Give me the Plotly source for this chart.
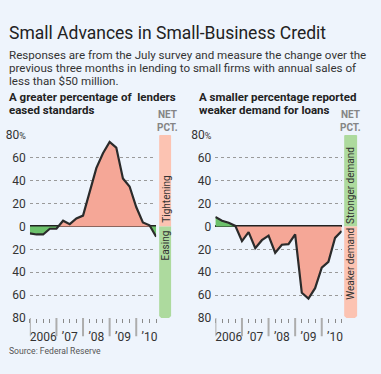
import plotly.graph_objects as go

# ---------------- data ----------------
quarters = [2006 + i * 0.25 for i in range(20)]
standards = [-6, -7, -7, -2, -2, 5, 2, 7, 9.5, 31, 51, 64, 74, 69, 42, 35, 17, 3.5, 1, -9]
demand = [8.3, 5, 3.3, 0.5, -12.8, -5, -19, -12, -8, -23, -16, -15.5, -7, -58, -63, -54, -36, -31, -10, -4]
year_ticks = [2006, 2007, 2008, 2009, 2010]
year_labels = ["2006", "\u201907", "\u201908", "\u201909", "\u201910"]
y_ticks = [80, 60, 40, 20, 0, -20, -40, -60, -80]
y_labels = ["80<span style='font-size:9px'>%</span>", "60", "40", "20", "0", "20", "40", "60", "80"]

W, H = 381, 374
BG = "#EEF4FC"
SALMON = "#F5A797"
GREEN = "#6CC16B"
BAND_SALMON = "#FCC3B2"
BAND_GREEN = "#ADDA9E"
FONT = "Roboto"


def split_sign(xs, ys):
    """Return (pos_x, pos_y, neg_x, neg_y) with zero crossings inserted."""
    px, py, nx, ny = [], [], [], []
    for i in range(len(xs)):
        if i > 0:
            y0, y1 = ys[i - 1], ys[i]
            if (y0 > 0 and y1 < 0) or (y0 < 0 and y1 > 0):
                xc = xs[i - 1] + (xs[i] - xs[i - 1]) * (y0 / (y0 - y1))
                px.append(xc); py.append(0)
                nx.append(xc); ny.append(0)
        px.append(xs[i]); py.append(max(ys[i], 0))
        nx.append(xs[i]); ny.append(min(ys[i], 0))
    return px, py, nx, ny


fig = go.Figure()

def add_panel(ys, xa, ya, pos_color, neg_color):
    px_, py_, nx_, ny_ = split_sign(quarters, ys)
    fig.add_trace(go.Scatter(x=px_, y=py_, mode="lines", line=dict(width=0), fill="tozeroy",
                             fillcolor=pos_color, xaxis=xa, yaxis=ya, hoverinfo="skip", showlegend=False))
    fig.add_trace(go.Scatter(x=nx_, y=ny_, mode="lines", line=dict(width=0), fill="tozeroy",
                             fillcolor=neg_color, xaxis=xa, yaxis=ya, hoverinfo="skip", showlegend=False))
    fig.add_trace(go.Scatter(x=quarters, y=ys, mode="lines", line=dict(color="#2b2b2b", width=2.2),
                             xaxis=xa, yaxis=ya, showlegend=False))

add_panel(standards, "x", "y", SALMON, GREEN)
add_panel(demand, "x2", "y2", GREEN, SALMON)

ybot = 1 - 323 / H
ydom = [ybot, 1 - 133 / H]
xdom1 = [30 / W, 157 / W]
xdom2 = [216.5 / W, 343.5 / W]
xrange_ = [2006, 2010.75]

def xaxis_cfg(dom, anchor):
    return dict(domain=dom, range=xrange_, anchor=anchor, showgrid=False, zeroline=False,
                tickvals=[y + 0.5 for y in year_ticks], ticktext=year_labels, ticks="",
                ticklabelstandoff=10, tickfont=dict(family=FONT, size=12, color="#333"),
                showline=False,
                minor=dict(ticks="outside", ticklen=4, tickwidth=1, tickcolor="#8A8A8A",
                           tickvals=quarters + [2010.75], showgrid=False),
                fixedrange=True)

def yaxis_cfg(dom, anchor):
    return dict(domain=dom, range=[-80, 80], anchor=anchor, tickvals=y_ticks, ticktext=y_labels,
                showgrid=True, gridcolor="#9A9A9A", griddash="dot", gridwidth=1,
                zeroline=True, zerolinecolor="#222", zerolinewidth=1.6, ticks="",
                ticklabelstandoff=3, tickfont=dict(family=FONT, size=12, color="#333"),
                showline=False, fixedrange=True)

fig.update_layout(
    width=W, height=H, margin=dict(l=0, r=0, t=0, b=0),
    paper_bgcolor=BG, plot_bgcolor=BG, showlegend=False,
    xaxis=xaxis_cfg(xdom1, "y"),
    xaxis2=xaxis_cfg(xdom2, "y2"),
    yaxis=yaxis_cfg(ydom, "x"),
    yaxis2=yaxis_cfg(ydom, "x2"),
)

# long year ticks below each panel
for xr in ("x", "x2"):
    for yv in year_ticks:
        fig.add_shape(type="line", xref=xr, yref="paper", x0=yv, x1=yv,
                      y0=ybot, y1=ybot - 19 / H, line=dict(color="#ADADAD", width=2))

# -------- side bands with arrow tips --------
def band(x0px, x1px, yref, top_color, bot_color):
    x0, x1 = x0px / W, x1px / W
    xm = (x0 + x1) / 2
    fig.add_shape(type="path", xref="paper", yref=yref, line=dict(width=0), fillcolor=top_color,
                  path=f"M {x0},0 L {x0},79.5 L {xm},83.2 L {x1},79.5 L {x1},0 Z", layer="below")
    fig.add_shape(type="path", xref="paper", yref=yref, line=dict(width=0), fillcolor=bot_color,
                  path=f"M {x0},0 L {x0},-78.3 L {xm},-83.4 L {x1},-78.3 L {x1},0 Z", layer="below")

band(160, 172, "y", BAND_SALMON, BAND_GREEN)
band(346, 359, "y2", BAND_GREEN, BAND_SALMON)

def vtext(text, xpx, yval, yref):
    fig.add_annotation(text=text, x=xpx / W, xref="paper", y=yval, yref=yref, showarrow=False,
                       textangle=-90, font=dict(family=FONT, size=10, color="#333"),
                       xanchor="center", yanchor="middle")

vtext("Tightening", 166.5, 24, "y")
vtext("Easing", 166.5, -17, "y")
vtext("Stronger demand", 352.5, 36, "y2")
vtext("Weaker demand", 352.5, -33, "y2")

def text(t, xpx, ypx, size, color, bold=False, xanchor="left"):
    fig.add_annotation(text=f"<b>{t}</b>" if bold else t, x=xpx / W, y=1 - ypx / H, xref="paper",
                       yref="paper", showarrow=False, xanchor=xanchor, yanchor="middle",
                       font=dict(family=FONT, size=size, color=color))

text("Small Advances in Small-Business Credit", 7, 27.5, 17.5, "#222")
text("Responses are from the July survey and measure the change over the", 7, 49.5, 11.6, "#333")
text("previous three months in lending to small firms with annual sales of", 7, 63, 11.6, "#333")
text("less than $50 million.", 7, 76.5, 11.6, "#333")
text("A greater percentage of  lenders", 7, 93.5, 11.5, "#222", bold=True)
text("eased standards", 7, 107.5, 11.5, "#222", bold=True)
text("A smaller percentage reported", 198, 93.5, 11.5, "#222", bold=True)
text("weaker demand for loans", 198, 107.5, 11.5, "#222", bold=True)
text("NET", 168, 111.5, 10, "#858585", bold=True, xanchor="center")
text("PCT.", 168, 125, 10, "#858585", bold=True, xanchor="center")
text("NET", 352, 111.5, 10, "#858585", bold=True, xanchor="center")
text("PCT.", 352, 125, 10, "#858585", bold=True, xanchor="center")
text("Source: Federal Reserve", 7, 357.5, 8.6, "#555")

fig.write_html("out.html", config={"displayModeBar": False},
               post_script="document.body.style.margin='0';document.body.style.background='#EEF4FC';")
